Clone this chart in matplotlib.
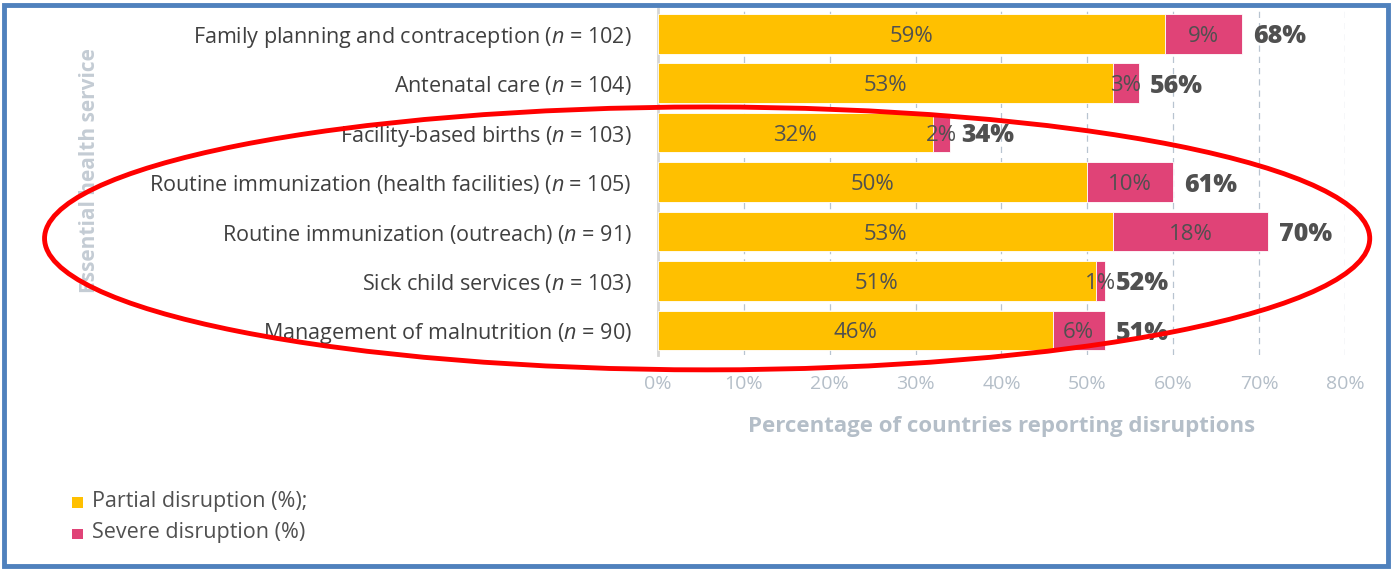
import matplotlib.pyplot as plt
from matplotlib.patches import Ellipse, Rectangle
import numpy as np

plt.rcParams["font.family"] = ["Open Sans", "DejaVu Sans"]
plt.rcParams["mathtext.fontset"] = "custom"
plt.rcParams["mathtext.rm"] = "Open Sans"
plt.rcParams["mathtext.it"] = "Open Sans:italic"

# data
services = [
    "Family planning and contraception",
    "Antenatal care",
    "Facility-based births",
    "Routine immunization (health facilities)",
    "Routine immunization (outreach)",
    "Sick child services",
    "Management of malnutrition",
]
n_countries = [102, 104, 103, 105, 91, 103, 90]
partial = [59, 53, 32, 50, 53, 51, 46]
severe = [9, 3, 2, 10, 18, 1, 6]
total = [68, 56, 34, 61, 70, 52, 51]
x_ticks = [0, 10, 20, 30, 40, 50, 60, 70, 80]

YELLOW = "#FFC000"
PINK = "#E04377"
TEXT = "#505050"
LIGHT = "#B4BEC8"

fig = plt.figure(figsize=(13.92, 5.69), dpi=100)
ax = fig.add_axes([0.4727, 0.376, 0.4935, 0.608])

y = np.arange(len(services))
ax.barh(y, partial, height=0.8, color=YELLOW, edgecolor="white", linewidth=0.6, zorder=3)
ax.barh(y, severe, left=partial, height=0.8, color=PINK, edgecolor="white",
        linewidth=0.6, zorder=3)

for yi, p, s, t in zip(y, partial, severe, total):
    ax.text(p / 2, yi, f"{p}%", ha="center", va="center_baseline", fontsize=16,
            color=TEXT, zorder=4)
    ax.text(p + s / 2, yi, f"{s}%", ha="center", va="center_baseline", fontsize=16,
            color=TEXT, zorder=4)
    ax.text(p + s + 1.3, yi, f"{t}%", ha="left", va="center_baseline", fontsize=18,
            fontweight="heavy", color=TEXT, zorder=4)

ax.set_ylim(len(services) - 0.5, -0.5)
ax.set_xlim(0, 80)
ax.set_yticks(y)
ax.set_yticklabels([f"{s} ($n$ = {n})" for s, n in zip(services, n_countries)],
                   fontsize=15.5, color="#404040")
ax.set_xticks(x_ticks)
ax.set_xticklabels([f"{v}%" for v in x_ticks], fontsize=14, color=LIGHT)
ax.tick_params(axis="y", length=0, pad=19)
ax.tick_params(axis="x", length=0, pad=14)

ax.grid(axis="x", linestyle=(0, (5, 4)), color="#B8C4D0", linewidth=0.9, zorder=0)
ax.set_axisbelow(True)
for side in ["top", "right", "bottom"]:
    ax.spines[side].set_visible(False)
ax.spines["left"].set_color("#D6D6D6")
ax.spines["left"].set_linewidth(2)

ax.set_xlabel("Percentage of countries reporting disruptions", fontsize=16,
              fontweight="bold", color=LIGHT, labelpad=17)
fig.text(0.064, 0.70, "Essential health service", rotation=90, ha="center",
         va="center", fontsize=15, fontweight="bold", color="#C4CCD4")

# legend
fig.patches.append(Rectangle((0.052, 0.108), 0.0075, 0.018, transform=fig.transFigure,
                             facecolor=YELLOW, edgecolor="none"))
fig.text(0.066, 0.119, "Partial disruption (%);", fontsize=15.5, color=TEXT, va="center")
fig.patches.append(Rectangle((0.052, 0.052), 0.0075, 0.018, transform=fig.transFigure,
                             facecolor=PINK, edgecolor="none"))
fig.text(0.066, 0.064, "Severe disruption (%)", fontsize=15.5, color=TEXT, va="center")

# red highlight ellipse drawn over the chart
fig.patches.append(Ellipse((0.508, 0.581), 0.952, 0.462, transform=fig.transFigure,
                           fill=False, edgecolor="#FF0000", linewidth=3.5, zorder=10))

# blue frame around the picture
fig.patches.append(Rectangle((0.003, 0.006), 0.994, 0.986, transform=fig.transFigure,
                             fill=False, edgecolor="#4F81BD", linewidth=3.5, zorder=10))

fig.savefig("out.png", dpi=100)
plt.close(fig)
